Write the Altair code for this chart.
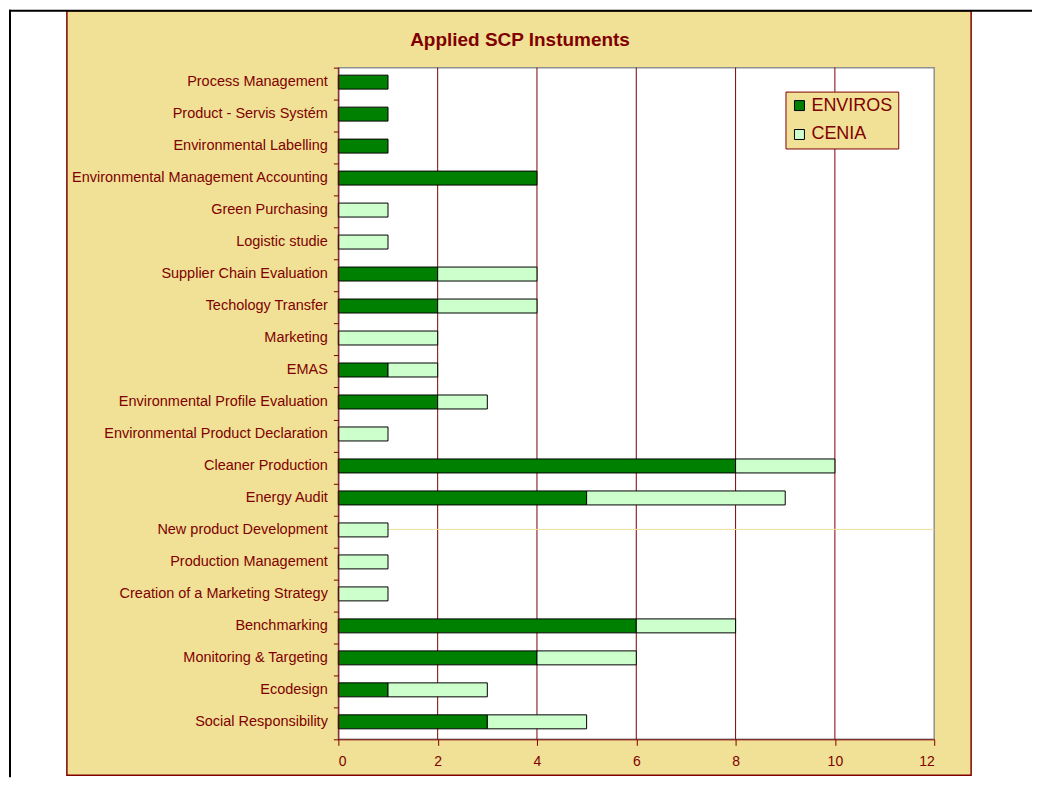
import altair as alt
import pandas as pd

categories = [
    "Process Management",
    "Product - Servis Systém",
    "Environmental Labelling",
    "Environmental Management Accounting",
    "Green Purchasing",
    "Logistic studie",
    "Supplier Chain Evaluation",
    "Techology Transfer",
    "Marketing",
    "EMAS",
    "Environmental Profile Evaluation",
    "Environmental Product Declaration",
    "Cleaner Production",
    "Energy Audit",
    "New product Development",
    "Production Management",
    "Creation of a Marketing Strategy",
    "Benchmarking",
    "Monitoring & Targeting",
    "Ecodesign",
    "Social Responsibility",
]
enviros = [1, 1, 1, 4, 0, 0, 2, 2, 0, 1, 2, 0, 8, 5, 0, 0, 0, 6, 4, 1, 3]
cenia = [0, 0, 0, 0, 1, 1, 2, 2, 2, 1, 1, 1, 2, 4, 1, 1, 1, 2, 2, 2, 2]
series = ["ENVIROS", "CENIA"]
series_colors = ["#008000", "#CCFFCC"]
x_ticks = [0, 2, 4, 6, 8, 10, 12]
grid_values = [2, 4, 6, 8, 10]
title_text = "Applied SCP Instuments"

rows = []
for c, e, k in zip(categories, enviros, cenia):
    if e > 0:
        rows.append({"instrument": c, "series": "ENVIROS", "value": e, "ord": 0})
    if k > 0:
        rows.append({"instrument": c, "series": "CENIA", "value": k, "ord": 1})
df = pd.DataFrame(rows)

W, H = 597, 673
DARK = "#800000"
BEIGE = "#F0E196"
FONT = "Liberation Sans"

xscale = alt.Scale(domain=[0, 12], nice=False, zero=True)
yscale = alt.Scale(domain=categories, paddingInner=0, paddingOuter=0)

xaxis = alt.Axis(
    title=None, values=x_ticks, grid=False, domainColor=DARK, domainWidth=1,
    tickColor=DARK, tickSize=6, labelColor=DARK, labelFont=FONT, labelFontSize=14,
    labelPadding=9, zindex=1,
)
yaxis = alt.Axis(
    title=None, grid=False, domainColor=DARK, domainWidth=1, tickColor=DARK,
    tickSize=5, tickBand="extent", labelColor=DARK, labelFont=FONT,
    labelFontSize=14.5, labelPadding=6, labelLimit=400, labelOffset=-2, zindex=1,
)

one = alt.Data(values=[{"k": 1}])

panel = alt.Chart(one).mark_rect(fill=BEIGE, stroke=DARK, strokeWidth=1.5).encode(
    x=alt.value(-272), x2=alt.value(634), y=alt.value(-57), y2=alt.value(709)
)
frame_left = alt.Chart(one).mark_rule(color="black", strokeWidth=2).encode(
    x=alt.value(-329), y=alt.value(-58), y2=alt.value(711)
)
frame_top = alt.Chart(one).mark_rule(color="black", strokeWidth=2).encode(
    x=alt.value(-330), x2=alt.value(695), y=alt.value(-57)
)
plot_bg = alt.Chart(one).mark_rect(fill="white", stroke="#909090", strokeWidth=1.5).encode(
    x=alt.value(0), x2=alt.value(W), y=alt.value(0), y2=alt.value(H)
)
title_mark = alt.Chart(alt.Data(values=[{"t": title_text}])).mark_text(
    font=FONT, fontSize=19, fontWeight="bold", color=DARK, align="center",
    baseline="alphabetic",
).encode(text="t:N", x=alt.value(182), y=alt.value(-22))

grid = alt.Chart(pd.DataFrame({"g": grid_values})).mark_rule(color=DARK, strokeWidth=1).encode(
    x=alt.X("g:Q", scale=xscale, axis=xaxis), y=alt.value(0), y2=alt.value(H)
)

stray = alt.Chart(
    pd.DataFrame({"instrument": ["New product Development"], "a": [0], "b": [12]})
).mark_rule(color="#F0E196", strokeWidth=1, yOffset=-2).encode(
    y=alt.Y("instrument:N", scale=yscale, axis=yaxis, sort=categories),
    x=alt.X("a:Q", scale=xscale, axis=xaxis),
    x2="b:Q",
)

bars = alt.Chart(df).mark_bar(stroke="black", strokeWidth=1, size=14, yOffset=-1.5).encode(
    x=alt.X("value:Q", stack="zero", scale=xscale, axis=xaxis),
    y=alt.Y("instrument:N", scale=yscale, axis=yaxis, sort=categories),
    color=alt.Color(
        "series:N",
        scale=alt.Scale(domain=series, range=series_colors),
        legend=alt.Legend(
            title=None, orient="none", legendX=448, legendY=24,
            fillColor=BEIGE, strokeColor=DARK, padding=5, cornerRadius=0,
            labelFontSize=18, labelColor=DARK, labelFont=FONT, labelOffset=3,
            symbolType="square", symbolSize=100, symbolStrokeColor="black",
            symbolStrokeWidth=1, rowPadding=11, zindex=1,
        ),
    ),
    order=alt.Order("ord:Q"),
)

chart = alt.layer(
    panel, frame_left, frame_top, plot_bg, title_mark, grid, stray, bars
).properties(
    width=W,
    height=H,
    padding=0,
    background="white",
).configure_view(stroke=None)

chart.save("out.html", embed_options={"renderer": "svg", "actions": False})
